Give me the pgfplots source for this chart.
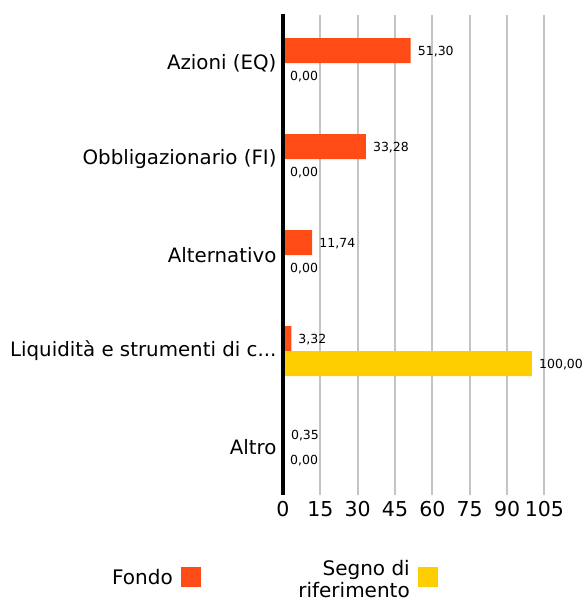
\documentclass[border=0pt]{standalone}
\usepackage{pgfplots}
\pgfplotsset{compat=1.18}
\usepackage{fontspec}
\setmainfont{DejaVu Sans}
\definecolor{fondo}{HTML}{FF4C17}
\definecolor{bench}{HTML}{FFCE00}
\definecolor{gridc}{HTML}{C4C4C4}
\begin{document}
\begin{tikzpicture}[x=1pt,y=1pt]
\useasboundingbox (-283,-106) rectangle (302,495);
\begin{axis}[
  at={(0,0)}, anchor=south west,
  scale only axis, width=261.4pt, height=480pt,
  xbar, bar width=25pt,
  xmin=0, xmax=105,
  ymin=-0.5, ymax=4.5, y dir=reverse,
  ytick={0,1,2,3,4},
  yticklabels={Azioni (EQ),Obbligazionario (FI),Alternativo,{Liquidità e strumenti di c.{}.{}.},Altro},
  xtick={0,15,30,45,60,75,90,105},
  xmajorgrids, major grid style={draw=gridc, line width=2pt},
  axis line style={draw=none},
  major tick length=0pt, tick style={draw=none},
  xticklabel style={font=\fontsize{20.5}{20.5}\selectfont, /pgf/number format/assume math mode=true, yshift=-3pt},
  yticklabel style={font=\fontsize{19.8}{19.8}\selectfont, xshift=-3pt},
  nodes near coords={\pgfmathprintnumber[fixed,fixed zerofill,precision=2,use comma,assume math mode=true]{\pgfplotspointmeta}},
  nodes near coords style={font=\fontsize{12.5}{12.5}\selectfont, anchor=west, inner sep=0pt, xshift=7pt, yshift=-1.5pt, text=black},
  point meta=x,
  clip=false,
]
\addplot[fill=fondo, draw=none, bar shift=12.5pt] table[x=v, y=c] {
c v
0 51.30
1 33.28
2 11.74
3 3.32
4 0.35
};
\addplot[fill=bench, draw=none, bar shift=-12.5pt] table[x=v, y=c] {
c v
0 0
1 0
2 0
3 100
4 0
};
\end{axis}
\draw[line width=4pt, black] (0,0) -- (0,481);
% legend
\fill[fondo] (-102,-92) rectangle (-82,-72);
\node[anchor=east, font=\fontsize{20}{20}\selectfont, inner sep=0pt] at (-110,-82) {Fondo};
\fill[bench] (135,-92) rectangle (155,-72);
\node[anchor=east, align=right, font=\fontsize{20}{22}\selectfont, inner sep=0pt] at (127,-84) {Segno di\\riferimento};
\end{tikzpicture}
\end{document}
